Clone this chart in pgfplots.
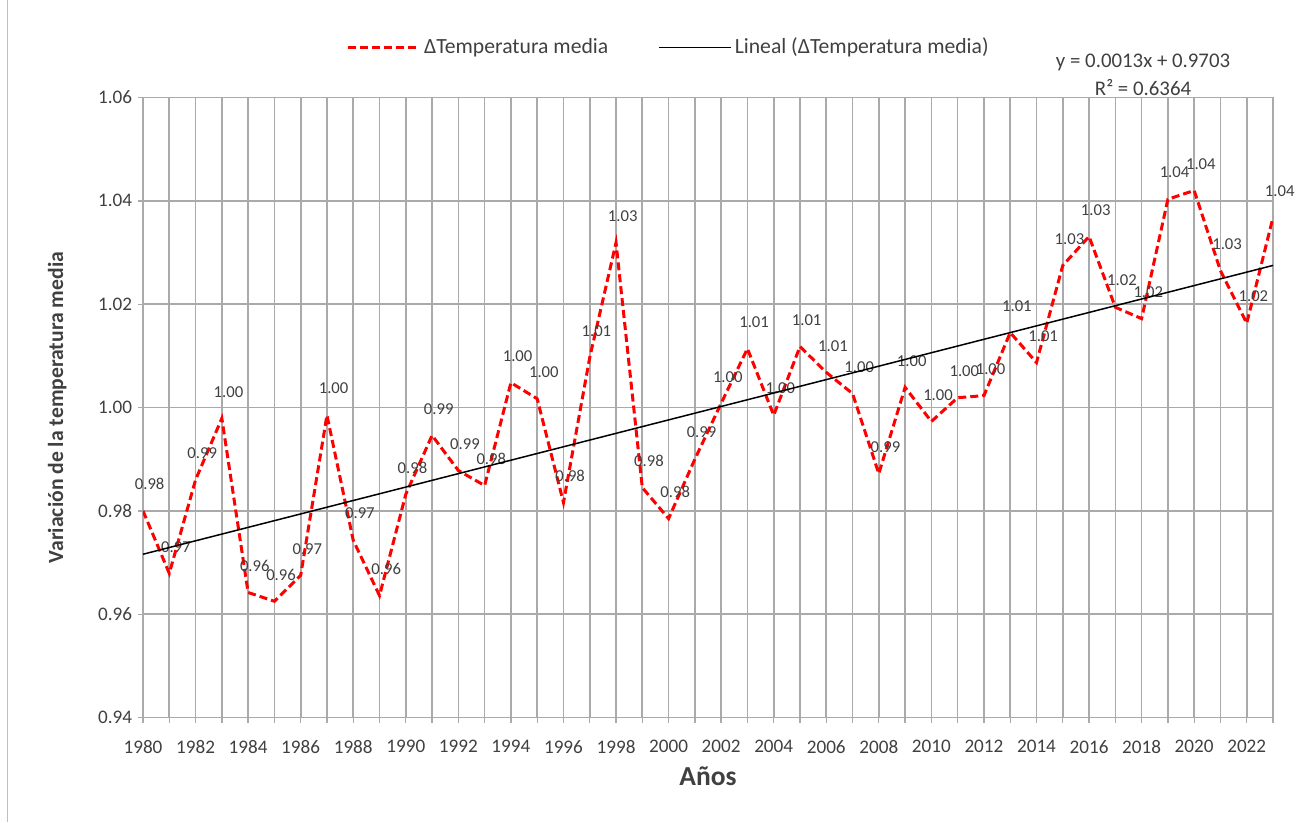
\documentclass[border=0pt]{standalone}
\usepackage{fontspec}
\setmainfont{Carlito}
\usepackage{pgfplots}
\pgfplotsset{compat=1.18}
\pgfplotsset{legend image code/.code={\draw[#1] (0pt,0pt) -- (43pt,0pt);}}
\definecolor{txt}{RGB}{64,64,64}
\definecolor{gridc}{RGB}{170,170,170}
\definecolor{serie}{RGB}{255,0,0}

\begin{document}
\begin{tikzpicture}
\begin{axis}[
    scale only axis,
    clip mode=individual,
    width=678pt, height=372pt,
    xmin=1980, xmax=2023,
    ymin=0.94, ymax=1.06,
    xtick={1980,1982,...,2022},
    minor xtick={1981,1983,...,2023},
    ytick={0.94,0.96,0.98,1.00,1.02,1.04,1.06},
    grid=both,
    major grid style={gridc, line width=1pt},
    minor grid style={gridc, line width=1pt},
    axis line style={gridc, line width=1pt},
    tick align=outside,
    major tick length=3pt, minor tick length=3pt,
    tick style={gridc, line width=0.8pt},
    xtick pos=bottom, ytick pos=left,
    /pgf/number format/assume math mode=true,
    xticklabel style={/pgf/number format/1000 sep={}, font=\fontsize{11.5}{13}\selectfont, text=txt, yshift=-7pt},
    yticklabel style={/pgf/number format/.cd, fixed, precision=2, zerofill, /tikz/.cd, font=\fontsize{11.5}{13}\selectfont, text=txt},
    xlabel={Años},
    xlabel style={at={(axis description cs:0.5,-0.094)}, anchor=center, font=\bfseries\fontsize{16.5}{19}\selectfont, text=txt},
    ylabel={Variación de la temperatura media},
    ylabel style={at={(axis description cs:-0.076,0.5)}, anchor=center, rotate=0, font=\bfseries\fontsize{13}{15}\selectfont, text=txt},
    legend columns=2,
    legend style={at={(axis description cs:0.4655,1.081)}, anchor=center, draw=none, fill=none,
        font=\fontsize{13}{15}\selectfont, text=txt,
        /tikz/every even column/.append style={column sep=28pt}},
    legend cell align=left,
]
\addplot[serie, line width=1.8pt, dash pattern=on 4.8pt off 2.4pt,
    nodes near coords,
    every node near coord/.append style={font=\fontsize{10}{12}\selectfont, text=txt, anchor=center, xshift=4pt, yshift=16pt,
        /pgf/number format/.cd, fixed, precision=2, zerofill, assume math mode=true},
] coordinates {
(1980,0.9800) (1981,0.9679) (1982,0.9860) (1983,0.9979) (1984,0.9642)
(1985,0.9625) (1986,0.9675) (1987,0.9985) (1988,0.9743) (1989,0.9636)
(1990,0.9832) (1991,0.9946) (1992,0.9878) (1993,0.9849) (1994,1.0048)
(1995,1.0017) (1996,0.9816) (1997,1.0097) (1998,1.0319) (1999,0.9845)
(2000,0.9785) (2001,0.9900) (2002,1.0008) (2003,1.0114) (2004,0.9985)
(2005,1.0118) (2006,1.0068) (2007,1.0027) (2008,0.9872) (2009,1.0039)
(2010,0.9973) (2011,1.0019) (2012,1.0023) (2013,1.0145) (2014,1.0087)
(2015,1.0275) (2016,1.0331) (2017,1.0194) (2018,1.0172) (2019,1.0403)
(2020,1.0420) (2021,1.0265) (2022,1.0163) (2023,1.0368)
};
\addlegendentry{ΔTemperatura media}
\addplot[black, line width=0.9pt] coordinates {(1980,0.9716) (2023,1.0275)};
\addlegendentry{Lineal (ΔTemperatura media)}
\node[font=\fontsize{12.5}{14}\selectfont, text=txt] at (axis description cs:0.885,1.056) {y = 0.0013x + 0.9703};
\node[font=\fontsize{12.5}{14}\selectfont, text=txt] at (axis description cs:0.885,1.016) {R² = 0.6364};
\end{axis}
\draw[gray!50, line width=0.6pt] (-81pt,-62.4pt) -- (-81pt,430.2pt);
\useasboundingbox (-85.8pt,-62.4pt) rectangle (700.2pt,430.2pt);
\end{tikzpicture}
\end{document}
